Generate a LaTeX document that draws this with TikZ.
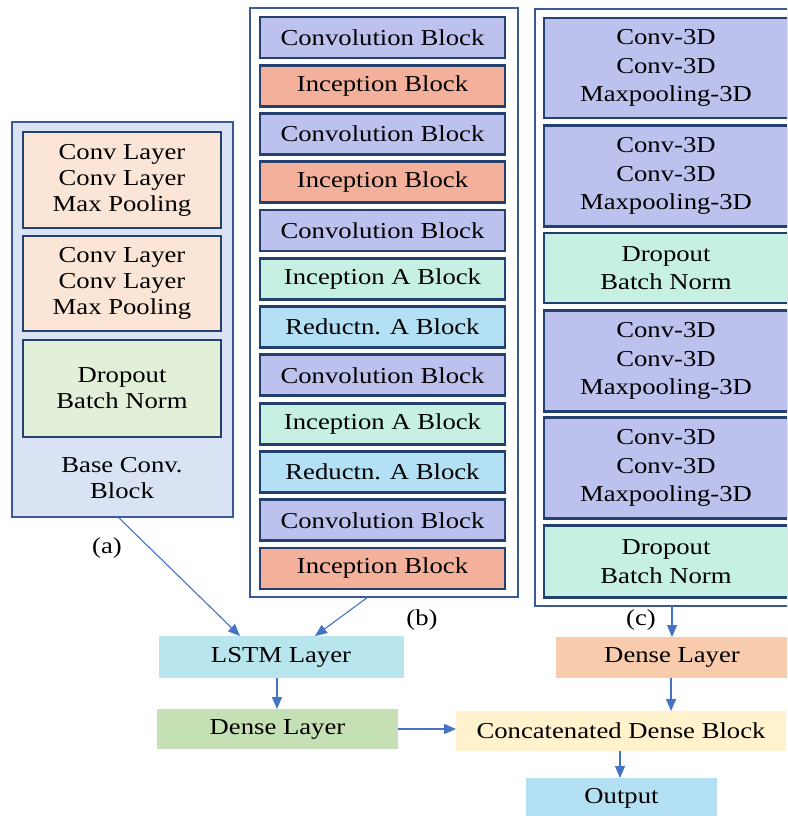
\documentclass[tikz,border=0pt]{standalone}
\usepackage{fontspec}
\setmainfont{Liberation Serif}[FakeStretch=1.17]
\usetikzlibrary{arrows.meta}
\definecolor{outerblue}{HTML}{3C5A98}
\definecolor{navy}{HTML}{24406E}
\definecolor{panela}{HTML}{DAE3F3}
\definecolor{peach}{HTML}{FBE5D6}
\definecolor{palegreen}{HTML}{E2F0D9}
\definecolor{lav}{HTML}{BDC1EE}
\definecolor{salmon}{HTML}{F3B19B}
\definecolor{mint}{HTML}{C6F0E2}
\definecolor{redblue}{HTML}{B3E0F4}
\definecolor{lstmc}{HTML}{B8E5EE}
\definecolor{densegreen}{HTML}{C5E0B4}
\definecolor{denseorange}{HTML}{F8CBAD}
\definecolor{concatc}{HTML}{FFF2CC}
\definecolor{outc}{HTML}{B4E0F4}
\definecolor{arrowblue}{HTML}{4472C4}
\begin{document}
\begin{tikzpicture}[x=1pt,y=-1pt,
  txt/.style={font=\fontsize{22.8}{26}\selectfont, align=center},
  panel/.style={draw=outerblue, line width=2.4pt, inner sep=0pt, outer sep=0pt},
  inbox/.style={draw=navy, line width=2.8pt, inner sep=0pt, outer sep=0pt, txt},
  flat/.style={inner sep=0pt, outer sep=0pt, txt},
  arr/.style={draw=arrowblue, line width=1.1pt, -{Triangle[length=12pt,width=10pt]}}]
\clip (0,0) rectangle (787,816);
\fill[white] (0,0) rectangle (787,816);

% Panel (a)
\node[panel, fill=panela, minimum width=221, minimum height=395] (pa) at (122.5,319.5) {};
\node[inbox, fill=peach, minimum width=198, minimum height=96] (a1) at (122,180) {Conv Layer\\Conv Layer\\Max Pooling};
\node[inbox, fill=peach, minimum width=198, minimum height=95] (a2) at (122,283.5) {Conv Layer\\Conv Layer\\Max Pooling};
\node[inbox, fill=palegreen, minimum width=198, minimum height=97] (a3) at (122,388.5) {Dropout\\Batch Norm};
\node[txt] (alab) at (122,478) {Base Conv.\\Block};
\node[txt] (acap) at (107,548) {(a)};

% Panel (b)
\node[panel, fill=white, minimum width=268, minimum height=589] (pb) at (384,302.5) {};
\foreach \i/\t/\c in {0/Convolution Block/lav, 1/Inception Block/salmon, 2/Convolution Block/lav,
  3/Inception Block/salmon, 4/Convolution Block/lav, 5/Inception A Block/mint,
  6/Reductn. A Block/redblue, 7/Convolution Block/lav, 8/Inception A Block/mint,
  9/Reductn. A Block/redblue, 10/Convolution Block/lav, 11/Inception Block/salmon}
  \node[inbox, fill=\c, minimum width=245, minimum height=41] (b\i) at (382.5,37.5+48.27*\i) {\t};
\node[txt] (bcap) at (422,620) {(b)};

% Panel (c)
\node[panel, fill=white, minimum width=262, minimum height=597] (pc) at (666,307.5) {};
\tikzset{c3/.style={inbox, font=\fontsize{22.8}{28.5}\selectfont, minimum width=244}}
\node[c3, fill=lav, minimum height=100] (c1) at (666,68) {Conv-3D\\Conv-3D\\Maxpooling-3D};
\node[c3, fill=lav, minimum height=101] (c2) at (666,176) {Conv-3D\\Conv-3D\\Maxpooling-3D};
\node[c3, fill=mint, minimum height=70] (c3n) at (666,268) {Dropout\\Batch Norm};
\node[c3, fill=lav, minimum height=101] (c4) at (666,361) {Conv-3D\\Conv-3D\\Maxpooling-3D};
\node[c3, fill=lav, minimum height=101] (c5) at (666,468) {Conv-3D\\Conv-3D\\Maxpooling-3D};
\node[c3, fill=mint, minimum height=72] (c6) at (666,561.5) {Dropout\\Batch Norm};
\node[txt] (ccap) at (641,620) {(c)};

% Bottom part
\node[flat, fill=lstmc, minimum width=245, minimum height=42] (lstm) at (281,657) {LSTM Layer};
\node[flat, fill=densegreen, minimum width=241, minimum height=40] (dg) at (277.5,729) {Dense Layer};
\node[flat, fill=denseorange, minimum width=232, minimum height=41] (do) at (672,657.5) {Dense Layer};
\node[flat, fill=concatc, minimum width=330, minimum height=40] (cat) at (621,731) {Concatenated Dense Block};
\node[flat, fill=outc, minimum width=191, minimum height=40] (out) at (621.5,798) {Output};

% Connectors
\coordinate (pas) at (118,517);
\coordinate (pbs) at (368,597);
\draw[arr] (pas) -- (lstm.north -| 240,0);
\draw[arr] (pbs) -- (lstm.north -| 315,0);
\draw[arr] (pc.south -| do.north) -- (do.north);
\draw[arr] (lstm.south -| 277,0) -- (dg.north -| 277,0);
\draw[arr] (do.south -| 671,0) -- (cat.north -| 671,0);
\draw[arr] (dg.east) -- (cat.west |- dg.east);
\draw[arr] (cat.south -| 620,0) -- (out.north -| 620,0);
\end{tikzpicture}
\end{document}
